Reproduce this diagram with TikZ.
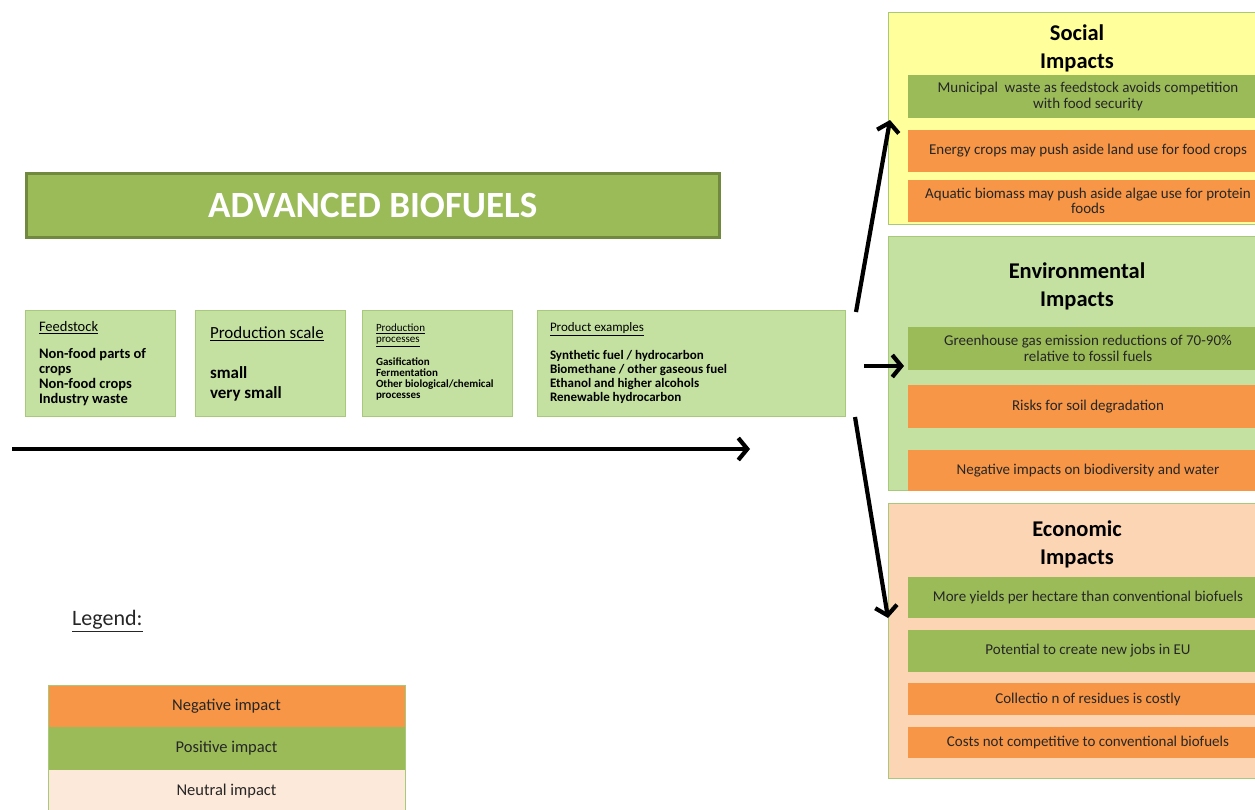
\documentclass[tikz,border=0pt]{standalone}
\usepackage{fontspec}
\setmainfont{Carlito}
\usetikzlibrary{arrows.meta}
\definecolor{orng}{HTML}{F79646}
\definecolor{grn}{HTML}{9BBB59}
\definecolor{grndark}{HTML}{71893F}
\definecolor{ltgrn}{HTML}{C4E1A2}
\definecolor{yel}{HTML}{FFFF9B}
\definecolor{peach}{HTML}{FCD5B5}
\definecolor{neut}{HTML}{FDE9D9}
\definecolor{txt}{HTML}{262626}
\definecolor{bord}{HTML}{A9C97A}
\begin{document}
\begin{tikzpicture}[x=1pt,y=-1pt,
  stagebox/.style={draw=bord, line width=0.8pt, fill=ltgrn, anchor=north west, inner sep=0pt,
    outer sep=0pt, minimum height=106pt},
  stagetext/.style={anchor=west, inner sep=0pt, outer sep=0pt, align=left, text=black},
  group/.style={draw=bord, line width=0.8pt, anchor=north west, inner sep=0pt, outer sep=0pt},
  item/.style={anchor=north west, inner sep=0pt, outer sep=0pt, minimum width=360pt,
    align=center, text=txt, font=\fontsize{15}{15.5}\selectfont},
  posbox/.style={item, fill=grn},
  negbox/.style={item, fill=orng},
  gtitle/.style={align=center, font=\bfseries\fontsize{22.5}{28}\selectfont, text=black},
  bigarrow/.style={line width=4.2pt, -{Straight Barb[length=9pt,width=22pt]}},
  leg/.style={anchor=north west, inner sep=0pt, outer sep=0pt, minimum width=357pt,
    minimum height=43pt, text=txt, font=\fontsize{16.5}{18}\selectfont}
]
\useasboundingbox (0,0) rectangle (1255,809);

% title
\node[draw=grndark, line width=2.5pt, fill=grn, anchor=north west, minimum width=693pt,
  minimum height=64pt, inner sep=0pt, text=white, font=\bfseries\fontsize{37}{40}\selectfont]
  (title) at (25,172) {ADVANCED BIOFUELS};

% stages
\node[stagebox, minimum width=150pt] (feed) at (25,310) {};
\node[stagetext, font=\fontsize{14.5}{15}\selectfont] (feedt) at ([xshift=14pt,yshift=-1pt]feed.west)
  {\underline{Feedstock}\\[12pt]
   \textbf{Non-food parts of}\\\textbf{crops}\\\textbf{Non-food crops}\\\textbf{Industry waste}};
\node[stagebox, minimum width=150pt] (scale) at (195,310) {};
\node[stagetext, font=\fontsize{17}{20}\selectfont] (scalet) at ([xshift=15pt,yshift=-1pt]scale.west)
  {\underline{Production scale}\\[20pt]
   \textbf{small}\\\textbf{very small}};
\node[stagebox, minimum width=150pt] (proc) at (362,310) {};
\node[stagetext, font=\fontsize{11}{11}\selectfont] (proct) at ([xshift=14pt,yshift=1pt]proc.west)
  {\underline{Production}\\\underline{processes}\\[10pt]
   \textbf{Gasification}\\\textbf{Fermentation}\\\textbf{Other biological/chemical}\\\textbf{processes}};
\node[stagebox, minimum width=308pt] (prod) at (537,310) {};
\node[stagetext, font=\fontsize{13}{14}\selectfont] (prodt) at ([xshift=13pt,yshift=0pt]prod.west)
  {\underline{Product examples}\\[14pt]
   \textbf{Synthetic fuel / hydrocarbon}\\\textbf{Biomethane / other gaseous fuel}\\\textbf{Ethanol and higher alcohols}\\\textbf{Renewable hydrocarbon}};

% timeline arrow
\coordinate (tl0) at (12,449);
\coordinate (tl1) at (750,449);
\draw[bigarrow] (tl0) -- (tl1);

% Social
\node[group, fill=yel, minimum width=380pt, minimum height=212pt] (social) at (888,12) {};
\node[gtitle] (socialt) at (1077,48) {Social\\Impacts};
\node[posbox, minimum height=43pt] (s1) at (908,75)
  {Municipal\ \ waste as feedstock avoids competition\\with food security};
\node[negbox, minimum height=42pt] (s2) at (908,130) {Energy crops may push aside land use for food crops};
\node[negbox, minimum height=42pt] (s3) at (908,180)
  {Aquatic biomass may push aside algae use for protein\\foods};

% Environmental
\node[group, fill=ltgrn, minimum width=380pt, minimum height=254pt] (env) at (888,236) {};
\node[gtitle] (envt) at (1077,286) {Environmental\\Impacts};
\node[posbox, minimum height=43pt] (e1) at (908,327)
  {Greenhouse gas emission reductions of 70-90\%\\relative to fossil fuels};
\node[negbox, minimum height=43pt] (e2) at (908,385) {Risks for soil degradation};
\node[negbox, minimum height=41pt] (e3) at (908,450) {Negative impacts on biodiversity and water};

% Economic
\node[group, fill=peach, minimum width=380pt, minimum height=275pt] (eco) at (888,503) {};
\node[gtitle] (ecot) at (1077,544) {Economic\\Impacts};
\node[posbox, minimum height=41pt] (c1) at (908,577) {More yields per hectare than conventional biofuels};
\node[posbox, minimum height=42pt] (c2) at (908,630) {Potential to create new jobs in EU};
\node[negbox, minimum height=32pt] (c3) at (908,683) {Collectio n of residues is costly};
\node[negbox, minimum height=31pt] (c4) at (908,727) {Costs not competitive to conventional biofuels};

% arrows to impacts
\coordinate (a1s) at (856,312);
\coordinate (a1e) at (890,120);
\coordinate (a2s) at (864,366);
\coordinate (a2e) at (904,366);
\coordinate (a3s) at (855,417);
\coordinate (a3e) at (888,618);
\draw[bigarrow] (a1s) -- (a1e);
\draw[bigarrow] (a2s) -- (a2e);
\draw[bigarrow] (a3s) -- (a3e);

% legend
\node[anchor=west, inner sep=0pt, text=txt, font=\fontsize{22}{24}\selectfont] (legt) at (72,621) {\underline{Legend:}};
\node[leg, fill=orng] (lneg) at (48,685) {Negative impact};
\node[leg, fill=grn] (lpos) at (48,727) {Positive impact};
\node[leg, fill=neut, minimum height=50pt] (lneu) at (48,770) {};
\node[anchor=center, inner sep=0pt, text=txt, font=\fontsize{16.5}{18}\selectfont] (lneut) at (226.5,791) {Neutral impact};
\draw[bord, line width=0.8pt] (lneu.south west) -- (lneg.north west) -- (lneg.north east) -- (lneu.south east);
\end{tikzpicture}
\end{document}
